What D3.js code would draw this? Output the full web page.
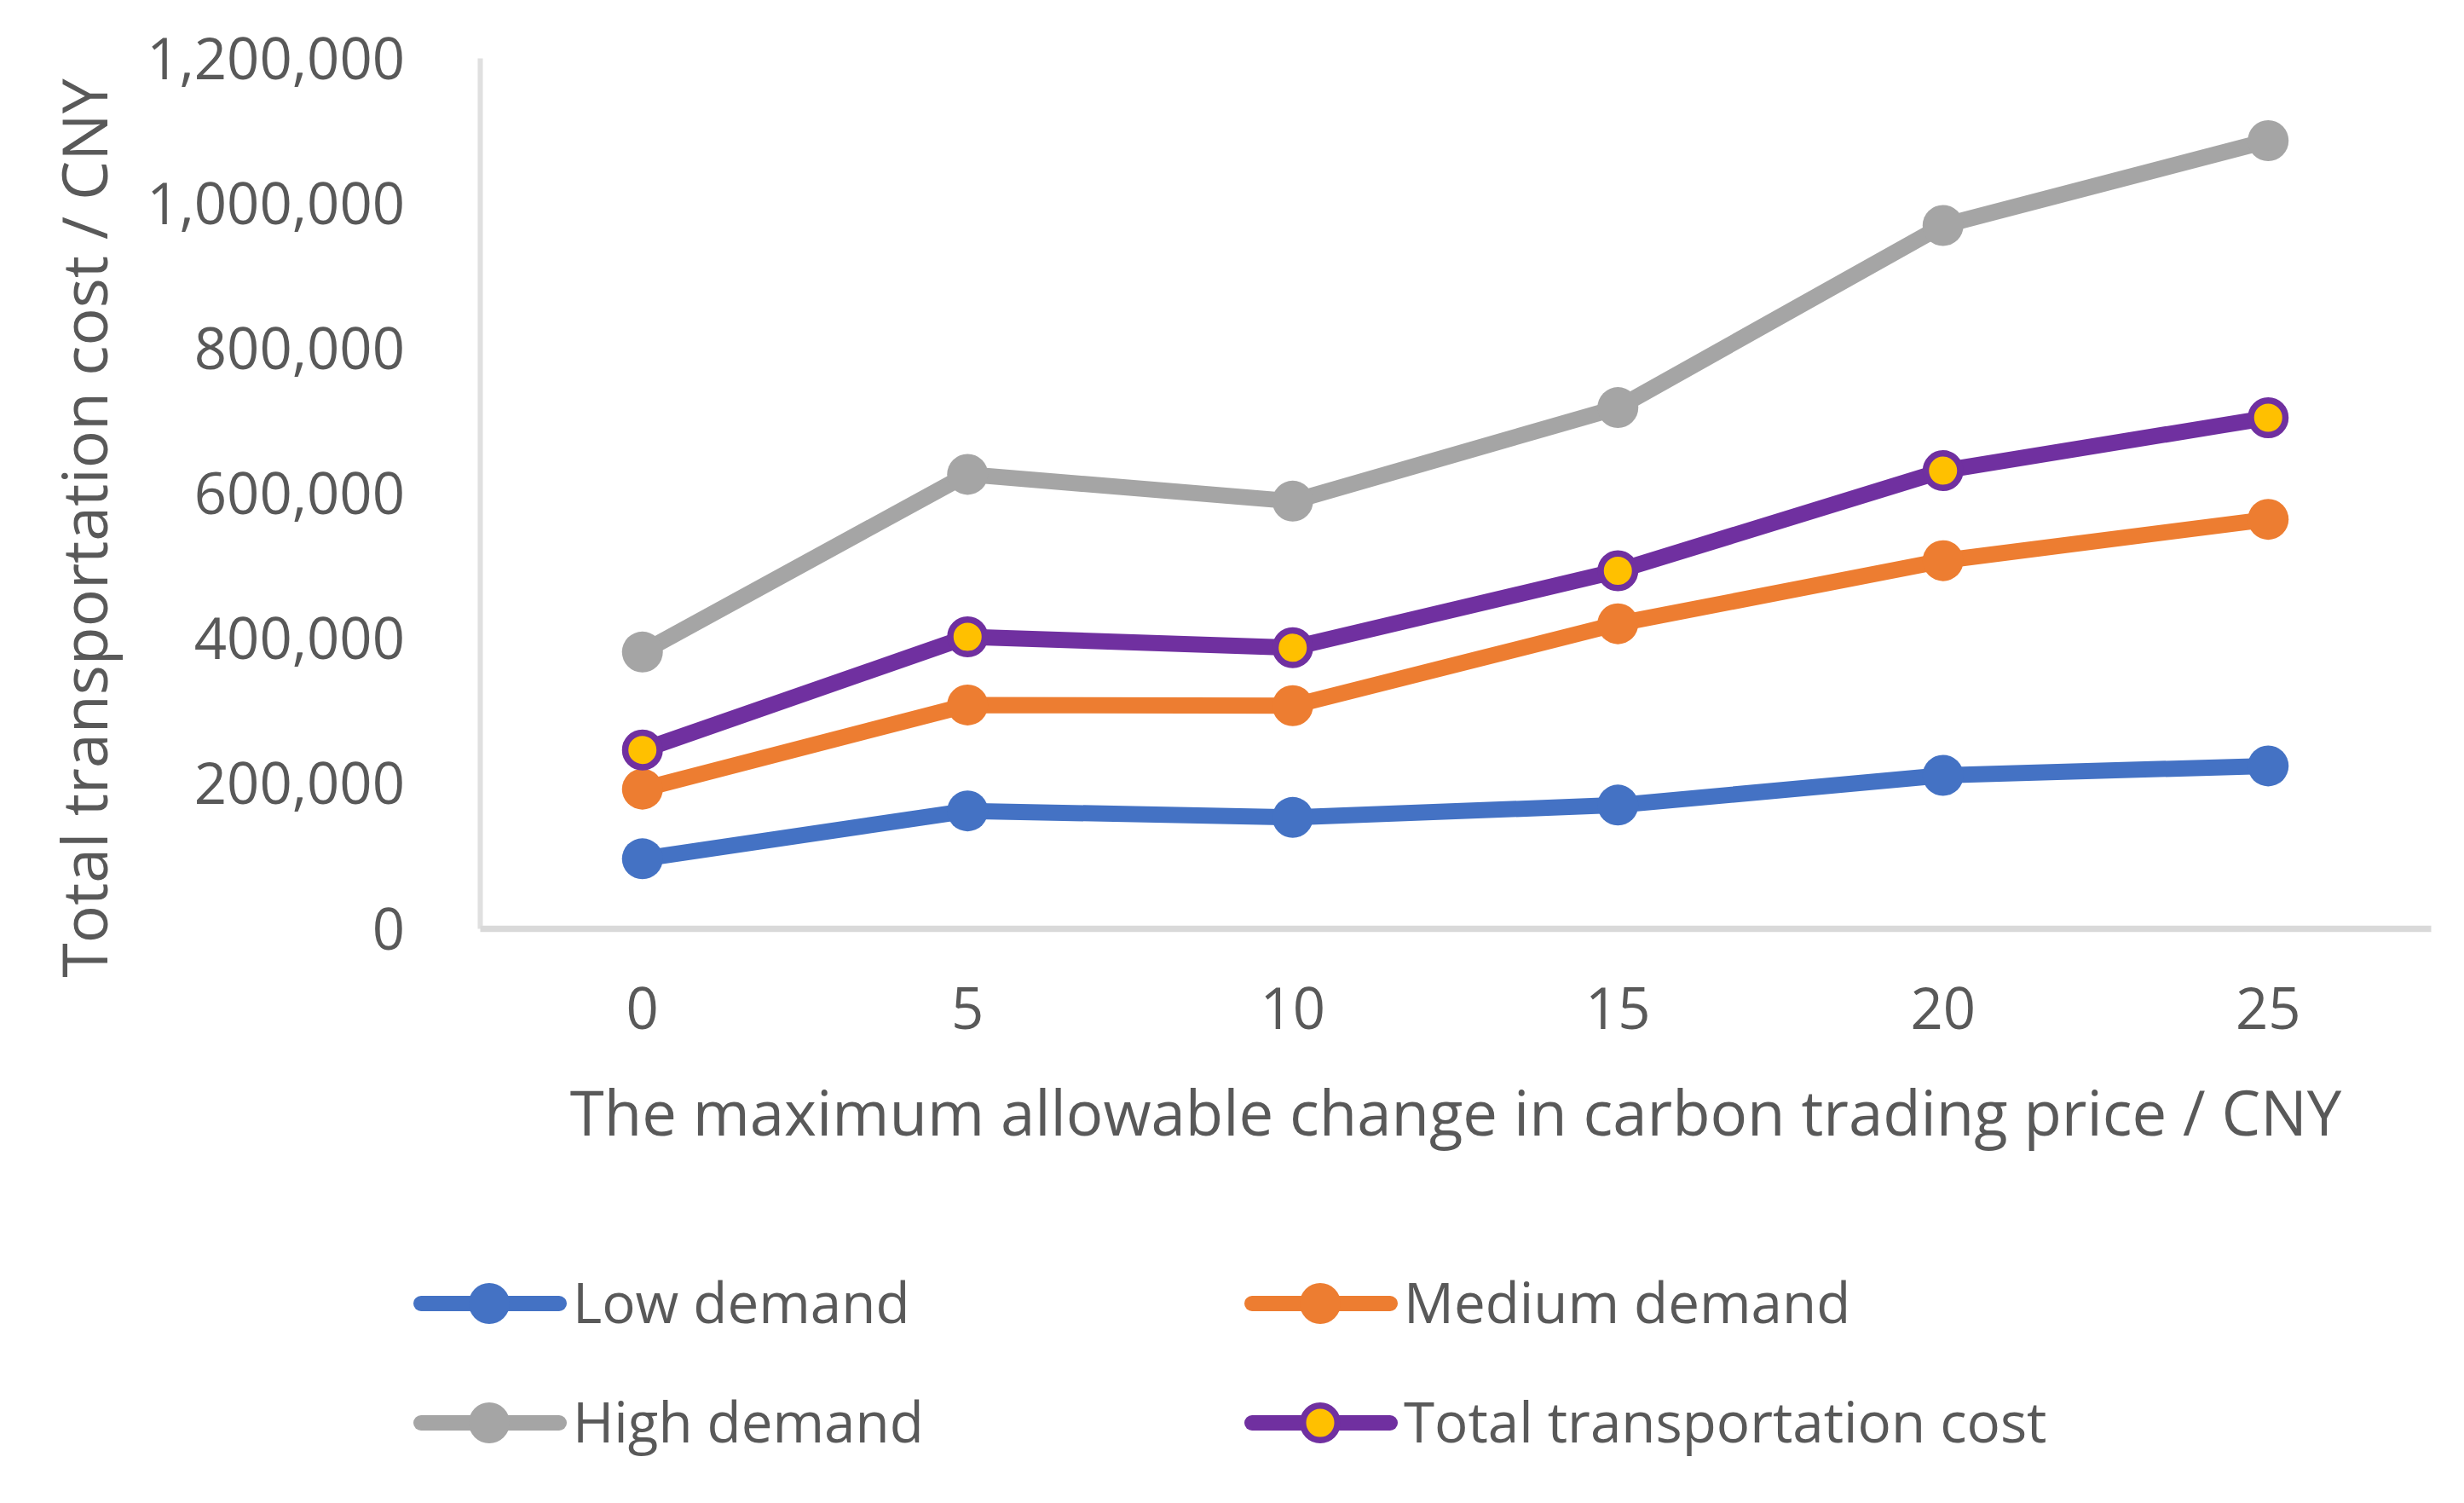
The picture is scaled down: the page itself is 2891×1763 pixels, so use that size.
<!DOCTYPE html>
<html>
<head>
<meta charset="utf-8">
<script src="https://cdn.jsdelivr.net/npm/d3@7"></script>
<style>
  html, body { margin: 0; padding: 0; background: #fff; }
  svg { display: block; }
</style>
</head>
<body>
<svg id="chart"></svg>
<script>
// data
const categories = ['0', '5', '10', '15', '20', '25']
const lowDemand = [96000, 162000, 153000, 170000, 211000, 224000]
const mediumDemand = [192000, 308000, 307000, 420000, 507000, 564000]
const highDemand = [381000, 626000, 589000, 718000, 969000, 1086000]
const totalCost = [246000, 402000, 387000, 493000, 631000, 704000]
const yTicks = [0, 200000, 400000, 600000, 800000, 1000000, 1200000]

const seriesNames = ['Low demand', 'Medium demand', 'High demand', 'Total transportation cost']
const seriesValues = [lowDemand, mediumDemand, highDemand, totalCost]

const COLORS = ['#4472C4', '#ED7D31', '#A5A5A5', '#7030A0']
const MARKER_FILL = ['#4472C4', '#ED7D31', '#A5A5A5', '#FFC000']
const FONT = "'Open Sans', 'Noto Sans', sans-serif"
const TEXT = '#595959'

const width = 2891
const height = 1763
const plot = { left: 563, right: 2852, top: 68, bottom: 1089 }

const svg = d3.select('#chart').attr('width', width).attr('height', height)

const xScale = d3.scaleBand().domain(categories).range([plot.left, plot.right])
const xPos = c => xScale(c) + xScale.bandwidth() / 2
const yScale = d3.scaleLinear().domain([0, 1200000]).range([plot.bottom, plot.top])

// ─── axes ───
const yAxis = d3.axisLeft(yScale).tickValues(yTicks).tickFormat(d3.format(',')).tickSize(0).tickPadding(88)
svg.append('g')
  .attr('transform', `translate(${plot.left},0)`)
  .call(yAxis)
  .call(g => g.select('.domain').attr('stroke', '#E0E0E0').attr('stroke-width', 6))
  .call(g => g.selectAll('.tick text')
    .attr('fill', TEXT).attr('font-size', '67px').attr('font-family', FONT)
    .attr('dy', '0.36em'))

const xAxis = d3.axisBottom(xScale).tickSize(0).tickPadding(70)
svg.append('g')
  .attr('transform', `translate(0,${plot.bottom})`)
  .call(xAxis)
  .call(g => g.select('.domain').attr('stroke', '#D9D9D9').attr('stroke-width', 7.5))
  .call(g => g.selectAll('.tick text')
    .attr('fill', TEXT).attr('font-size', '67px').attr('font-family', FONT)
    .attr('dy', '0.71em'))

// axis titles
svg.append('text')
  .attr('transform', `translate(126,${(96 + 1143) / 2}) rotate(-90)`)
  .attr('text-anchor', 'middle')
  .attr('font-size', '73.5px').attr('font-family', FONT).attr('fill', TEXT)
  .text('Total transportation cost / CNY')

svg.append('text')
  .attr('x', (667 + 2749) / 2).attr('y', 1332)
  .attr('text-anchor', 'middle')
  .attr('font-size', '72.5px').attr('font-family', FONT).attr('fill', TEXT)
  .text('The maximum allowable change in carbon trading price / CNY')

// ─── series ───
const line = d3.line()
  .x((d, i) => xPos(categories[i]))
  .y(d => yScale(d))

seriesValues.forEach((vals, s) => {
  const g = svg.append('g').attr('class', 'series')
  g.append('path')
    .attr('d', line(vals))
    .attr('fill', 'none')
    .attr('stroke', COLORS[s])
    .attr('stroke-width', 19)
    .attr('stroke-linejoin', 'round')
    .attr('stroke-linecap', 'round')

  g.selectAll('circle')
    .data(vals)
    .join('circle')
    .attr('cx', (d, i) => xPos(categories[i]))
    .attr('cy', d => yScale(d))
    .attr('r', s === 3 ? 20.25 : 24)
    .attr('fill', MARKER_FILL[s])
    .attr('stroke', s === 3 ? COLORS[s] : 'none')
    .attr('stroke-width', s === 3 ? 7.5 : 0)
})

// ─── legend ───
const legendPos = [
  { x: 485, y: 1529 }, { x: 1460, y: 1529 },
  { x: 485, y: 1669 }, { x: 1460, y: 1669 },
]
seriesNames.forEach((name, s) => {
  const p = legendPos[s]
  const item = svg.append('g').attr('transform', `translate(${p.x},${p.y})`)
  item.append('line')
    .attr('x1', 9).attr('x2', 171)
    .attr('stroke', COLORS[s]).attr('stroke-width', 18).attr('stroke-linecap', 'round')
  item.append('circle')
    .attr('cx', 89).attr('r', s === 3 ? 20.25 : 24)
    .attr('fill', MARKER_FILL[s])
    .attr('stroke', s === 3 ? COLORS[s] : 'none')
    .attr('stroke-width', s === 3 ? 7.5 : 0)
  item.append('text')
    .attr('x', 187).attr('y', 23)
    .attr('font-size', '65.5px').attr('font-family', FONT).attr('fill', TEXT)
    .text(name)
})
</script>
</body>
</html>
